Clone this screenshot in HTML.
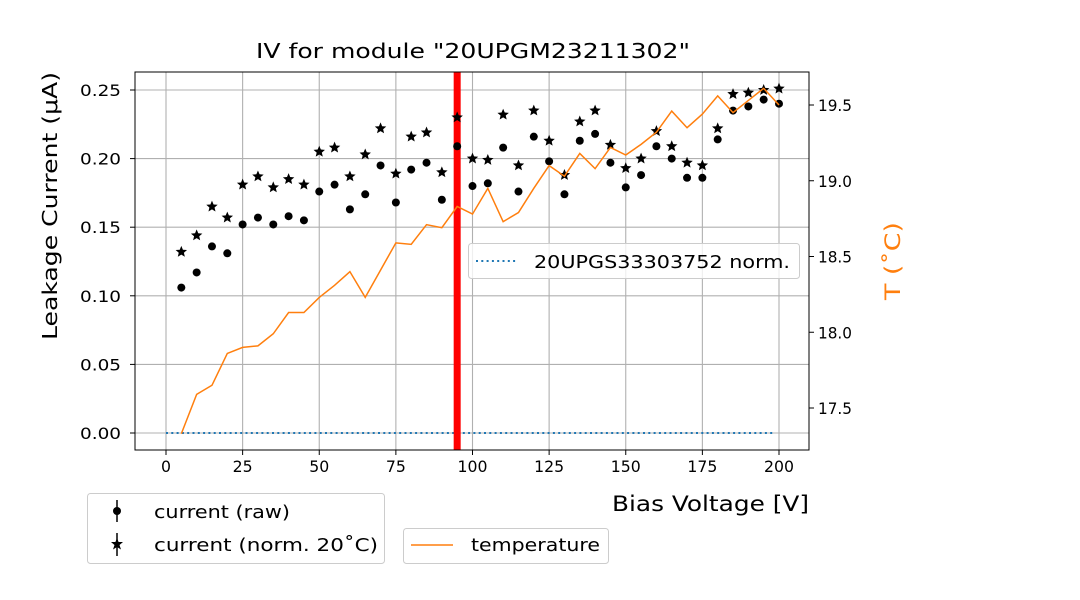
<!DOCTYPE html>
<html><head><meta charset="utf-8"><style>
body{margin:0;background:#fff}
svg{display:block;font-family:"DejaVu Sans","Liberation Sans",sans-serif}
</style></head><body>
<svg id="chart" width="1080" height="600" viewBox="0 0 1080 600"></svg>
<script>
const voltages=[5,10,15,20,25,30,35,40,45,50,55,60,65,70,75,80,85,90,95,100,105,110,115,120,125,130,135,140,145,150,155,160,165,170,175,180,185,190,195,200];
const currentRaw=[0.106,0.117,0.136,0.131,0.152,0.157,0.152,0.158,0.155,0.176,0.181,0.163,0.174,0.195,0.168,0.192,0.197,0.170,0.209,0.180,0.182,0.208,0.176,0.216,0.198,0.174,0.213,0.218,0.197,0.179,0.188,0.209,0.200,0.186,0.186,0.214,0.235,0.238,0.243,0.240];
const currentNorm=[0.132,0.144,0.165,0.157,0.181,0.187,0.179,0.185,0.181,0.205,0.208,0.187,0.203,0.222,0.189,0.216,0.219,0.190,0.230,0.200,0.199,0.232,0.195,0.235,0.213,0.188,0.227,0.235,0.210,0.193,0.200,0.220,0.209,0.197,0.195,0.222,0.247,0.248,0.250,0.251];
const temperature=[17.33,17.59,17.65,17.86,17.90,17.91,17.99,18.13,18.13,18.23,18.31,18.40,18.23,18.41,18.59,18.58,18.71,18.69,18.83,18.78,18.95,18.73,18.79,18.95,19.10,19.03,19.18,19.08,19.22,19.17,19.24,19.32,19.46,19.35,19.44,19.56,19.45,19.53,19.61,19.50];
const refVoltages=[0,198];
const refCurrent=[0,0];
const markerVoltage=95;
const xTicks=[0,25,50,75,100,125,150,175,200];
const yTicks=[0,0.05,0.10,0.15,0.20,0.25];
const y2Ticks=[17.5,18.0,18.5,19.0,19.5];

const svg=document.getElementById('chart');
const NS='http://www.w3.org/2000/svg';
const L=135,R=809,T=72,B=450;
const X=v=>166+(v-0)*(779-166)/200;
const Y=v=>433-v*1372;
const Y2=t=>105+(19.5-t)*151.5;
function mk(tag,attrs,parent){const e=document.createElementNS(NS,tag);for(const k in attrs)e.setAttribute(k,attrs[k]);(parent||svg).appendChild(e);return e;}
function txt(s,attrs,parent){const e=mk('text',attrs,parent);e.textContent=s;return e;}

const grid=mk('g',{});


xTicks.forEach(v=>mk('line',{x1:X(v),x2:X(v),y1:T,y2:B,stroke:'#b0b0b0','stroke-width':1.1},grid));
yTicks.forEach(v=>mk('line',{x1:L,x2:R,y1:Y(v),y2:Y(v),stroke:'#b0b0b0','stroke-width':1.1},grid));

const ref=mk('polyline',{points:refVoltages.map((v,i)=>X(v)+','+Y(refCurrent[i])).join(' '),fill:'none',stroke:'#1f77b4','stroke-width':2,'stroke-dasharray':'2,3.3'});



const red=mk('line',{x1:X(markerVoltage),x2:X(markerVoltage),y1:T,y2:B,stroke:'#ff0000','stroke-width':7});



const gRaw=mk('g',{});


voltages.forEach((v,i)=>{const c=mk('circle',{cx:X(v),cy:Y(currentRaw[i]),r:4,fill:'#000'},gRaw);

});

function star(cx,cy,r,parent){let p=[];for(let k=0;k<10;k++){const a=-Math.PI/2+k*Math.PI/5;const rr=k%2?r*0.45:r;p.push((cx+rr*Math.cos(a)).toFixed(2)+','+(cy+rr*Math.sin(a)).toFixed(2));}return mk('polygon',{points:p.join(' '),fill:'#000'},parent);}
const gNorm=mk('g',{});


voltages.forEach((v,i)=>{const s=star(X(v),Y(currentNorm[i]),6,gNorm);

});

const tl=mk('polyline',{points:voltages.map((v,i)=>X(v)+','+Y2(temperature[i])).join(' '),fill:'none',stroke:'#ff7f0e','stroke-width':1.5});



const fr=mk('rect',{x:L,y:T,width:R-L,height:B-T,fill:'none',stroke:'#000','stroke-width':1});



xTicks.forEach(v=>{mk('line',{x1:X(v),x2:X(v),y1:B,y2:B+5,stroke:'#000'});
const s=String(v);
const t=txt(s,{x:X(v),y:B+22,'font-size':16,'text-anchor':'middle',textLength:s.length*10,lengthAdjust:'spacingAndGlyphs'});

});
yTicks.forEach(v=>{mk('line',{x1:L-5,x2:L,y1:Y(v),y2:Y(v),stroke:'#000'});
const t=txt(v.toFixed(2),{x:L-14,y:Y(v)+6,'font-size':16,'text-anchor':'end',textLength:41,lengthAdjust:'spacingAndGlyphs'});

});
y2Ticks.forEach(v=>{mk('line',{x1:R,x2:R+5,y1:Y2(v),y2:Y2(v),stroke:'#000'});
const t=txt(v.toFixed(1),{x:R+9,y:Y2(v)+6,'font-size':16,textLength:34,lengthAdjust:'spacingAndGlyphs'});

});
</script>
<svg width="1080" height="600" style="position:absolute;left:0;top:0;font-family:'DejaVu Sans','Liberation Sans',sans-serif">
<text x="256" y="58" font-size="20" textLength="434" lengthAdjust="spacingAndGlyphs">IV for module "20UPGM23211302"</text>
<text x="612" y="511" font-size="21" textLength="197" lengthAdjust="spacingAndGlyphs">Bias Voltage [V]</text>
<text transform="translate(57,340) rotate(-90)" font-size="20" textLength="268" lengthAdjust="spacingAndGlyphs">Leakage Current (μA)</text>
<text transform="translate(900,300) rotate(-90)" font-size="21" fill="#ff7f0e" textLength="78" lengthAdjust="spacingAndGlyphs">T (˚C)</text>
<g>
<rect x="468.5" y="243.5" width="331" height="35" rx="3" fill="#fff" fill-opacity="0.8" stroke="#ccc"/>
<line x1="476" x2="518" y1="261" y2="261" stroke="#1f77b4" stroke-width="2" stroke-dasharray="2,3.3"/>
<text x="534" y="268" font-size="18" textLength="256" lengthAdjust="spacingAndGlyphs">20UPGS33303752 norm.</text>
</g>
<g>
<rect x="87.5" y="493.5" width="297" height="70" rx="3" fill="#fff" stroke="#ccc"/>
<line x1="117" x2="117" y1="500" y2="522" stroke="#000" stroke-width="1.5"/>
<circle cx="117" cy="511" r="4"/>
<text x="154" y="518" font-size="18" textLength="136" lengthAdjust="spacingAndGlyphs">current (raw)</text>
<line x1="117" x2="117" y1="533" y2="556" stroke="#000" stroke-width="1.5"/>
<polygon points="117,538 118.6,542 123,542 119.5,545 121,549.5 117,547 113,549.5 114.5,545 111,542 115.4,542"/>
<text x="154" y="551" font-size="18" textLength="224" lengthAdjust="spacingAndGlyphs">current (norm. 20˚C)</text>
</g>
<g>
<rect x="403.5" y="528.5" width="205" height="35" rx="3" fill="#fff" stroke="#ccc"/>
<line x1="411" x2="453" y1="545" y2="545" stroke="#ff7f0e" stroke-width="1.5"/>
<text x="471" y="551" font-size="18" textLength="129" lengthAdjust="spacingAndGlyphs">temperature</text>
</g>
</svg>
</body></html>
